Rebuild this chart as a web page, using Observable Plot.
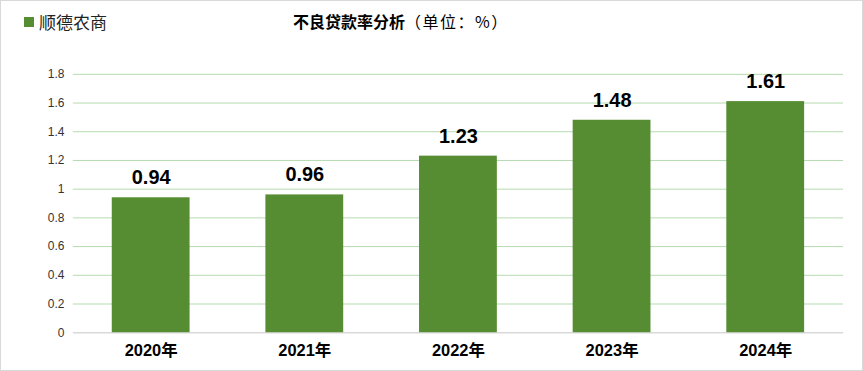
<!DOCTYPE html>
<html><head><meta charset="utf-8">
<script src="https://cdn.jsdelivr.net/npm/d3@7"></script>
<script src="https://cdn.jsdelivr.net/npm/@observablehq/plot@0.6"></script>
<style>
html,body{margin:0;padding:0;background:#fff;}
#wrap{position:relative;width:863px;height:371px;box-sizing:border-box;border:1px solid #d9d9d9;overflow:hidden;font-family:"Noto Sans CJK SC","Liberation Sans",sans-serif;}
#wrap svg{position:absolute;left:-1px;top:-1px;}
#legend{position:absolute;left:23px;top:8px;font-size:17px;color:#222;display:flex;align-items:center;z-index:2;}
#legend .sw{width:10px;height:10px;background:#568d32;margin-right:5px;}
#title{position:absolute;left:292px;top:8px;font-size:16px;color:#000;z-index:2;white-space:nowrap;}
#title b{font-weight:bold;}
#title span{letter-spacing:1.5px;}
</style></head>
<body>
<div id="wrap">
<div id="legend"><span class="sw"></span><span>顺德农商</span></div>
<div id="title"><b>不良贷款率分析</b><span>（单位：%）</span></div>
</div>
<script>
const years = ["2020年","2021年","2022年","2023年","2024年"];
const values = [0.94, 0.96, 1.23, 1.48, 1.61];
const yTicks = [0,0.2,0.4,0.6,0.8,1,1.2,1.4,1.6,1.8];
const data = years.map((y,i)=>({year:y,value:values[i]}));
const green = "#568d32";
const chart = Plot.plot({
  width: 863, height: 371,
  marginLeft: 73, marginRight: 18, marginTop: 74, marginBottom: 38,
  style:{background:"transparent", fontFamily:"'Liberation Sans', 'Noto Sans CJK SC', sans-serif"},
  x:{domain:years, paddingInner:0.495, paddingOuter:0.2475, label:null},
  y:{domain:[0,1.8], label:null},
  marks:[
    Plot.gridY(yTicks.filter(d=>d>0), {stroke:"#b5dbb0", strokeOpacity:1, strokeWidth:1}),
    Plot.ruleY([0], {stroke:"#d9d9d9", strokeWidth:1.5}),
    Plot.barY(data, {x:"year", y:"value", fill:green}),
    Plot.text(data, {x:"year", y:"value", text:d=>d.value.toFixed(2), dy:-20, fontSize:20, fontWeight:"bold", fill:"#000"}),
    Plot.axisY({ticks:yTicks, tickSize:0, tickPadding:9, tickFormat:d=>String(+d.toFixed(1)), fontSize:12, fill:"#333"}),
    Plot.axisX({tickSize:0, tickPadding:12, fontSize:16.5, fontWeight:"bold", fill:"#000"})
  ]
});
document.getElementById("wrap").appendChild(chart);
</script>
</body></html>
